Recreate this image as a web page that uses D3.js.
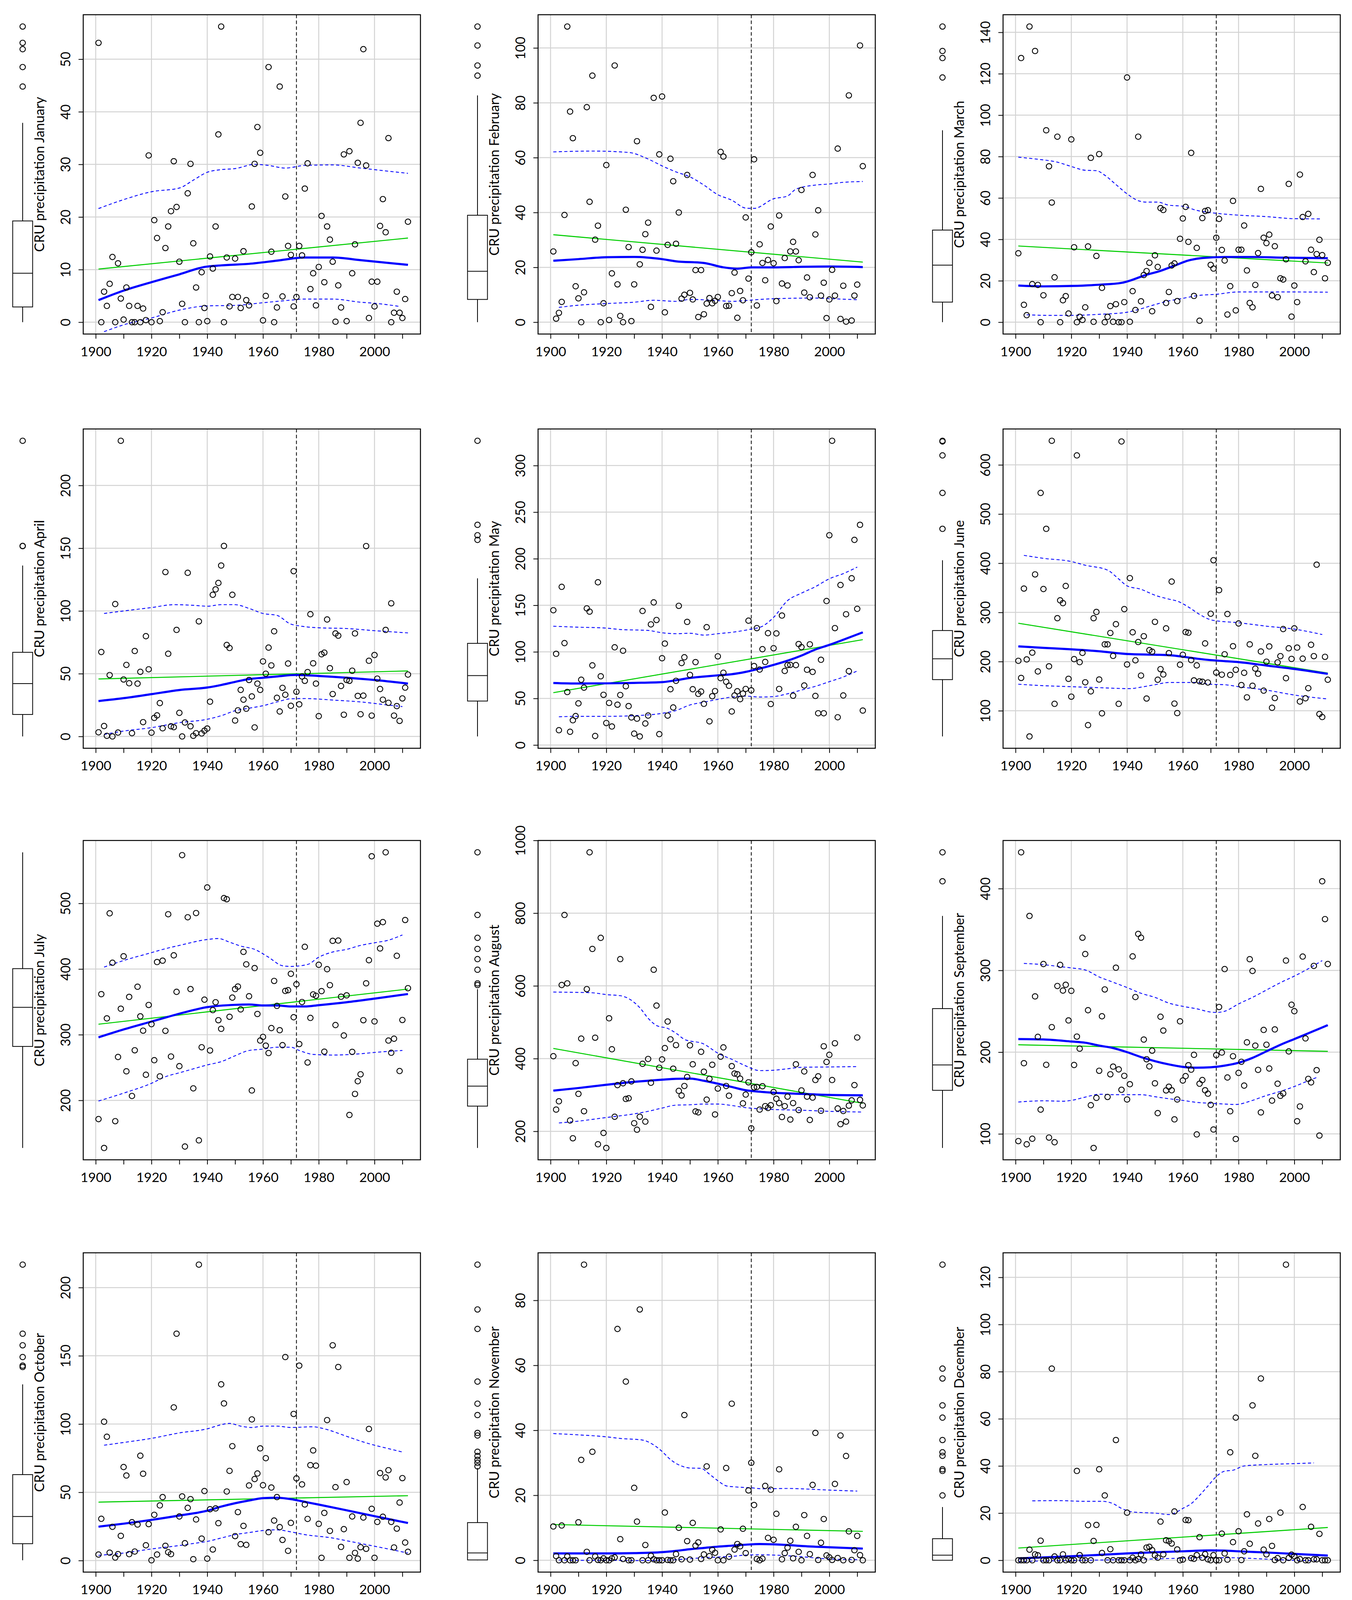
<!DOCTYPE html>
<html>
<head>
<meta charset="utf-8">
<script src="https://cdn.jsdelivr.net/npm/d3@7"></script>
<style>
  html, body { margin: 0; padding: 0; background: #fff; overflow: hidden; }
  svg { display: block; }
  text { font-family: Lato, "Open Sans", sans-serif; fill: #000; }
</style>
</head>
<body>
<svg id="chart"></svg>
<script>
// CRU monthly precipitation, one value per year from firstYear on
const firstYear = 1901
const xRange = [1900, 2012]
const breakYear = 1972
const monthNames = ['January', 'February', 'March', 'April', 'May', 'June',
    'July', 'August', 'September', 'October', 'November', 'December']

const precipJan = [53.1, 0, 5.8, 3.1, 7.3, 12.4, 0, 11.2, 4.5, 0.5,
    6.6, 3.1, 0, 0, 3.1, 0, 2.6, 0.4, 31.7, 0,
    19.4, 16.0, 0.2, 1.9, 14.1, 18.2, 21.1, 30.6, 21.9, 11.5,
    3.5, 0, 24.5, 30.1, 15.0, 6.6, 0, 9.5, 2.7, 0.2,
    12.5, 10.2, 18.2, 35.7, 56.2, 0, 12.3, 3.0, 4.8, 12.1,
    4.8, 2.7, 13.5, 4.2, 3.2, 22.0, 30.1, 37.1, 32.2, 0.35,
    5.0, 48.5, 13.4, 0, 2.8, 44.8, 4.9, 23.9, 14.5, 12.8,
    3.0, 4.8, 14.5, 12.7, 25.4, 30.2, 6.3, 9.3, 3.2, 10.5,
    20.2, 7.6, 18.2, 15.7, 11.5, 0.1, 7.0, 2.8, 31.9, 0.2,
    32.5, 9.3, 14.8, 30.3, 37.9, 51.9, 29.8, 0.8, 7.7, 3.0,
    7.7, 18.3, 23.4, 17.1, 35.0, 0, 1.8, 5.8, 1.8, 0.8,
    4.4, 19.1]
const precipFeb = [25.8, 1.3, 3.4, 7.4, 39.1, 107.8, 76.8, 67.1, 13.1, 8.7,
    0, 10.9, 78.4, 43.9, 89.9, 30.1, 35.2, 0, 6.9, 57.3,
    0.8, 17.8, 93.6, 13.8, 2.3, 0, 41.0, 27.4, 0.4, 13.8,
    66.0, 21.1, 26.4, 32.1, 36.3, 5.6, 81.8, 26.1, 61.2, 82.3,
    3.6, 28.2, 59.6, 51.4, 28.6, 40.0, 8.6, 10.0, 53.7, 10.7,
    8.3, 19.0, 1.9, 19.0, 2.9, 6.8, 8.8, 6.9, 7.8, 9.2,
    62.1, 60.4, 5.9, 6.0, 10.6, 18.1, 1.6, 11.4, 8.0, 38.2,
    15.9, 25.5, 59.4, 6.1, 28.4, 21.6, 15.3, 22.7, 34.9, 21.5,
    7.7, 38.9, 14.1, 23.4, 13.4, 25.8, 29.3, 25.8, 22.6, 48.2,
    10.8, 16.3, 9.1, 53.7, 32.0, 40.8, 9.7, 14.4, 1.5, 8.3,
    19.1, 9.7, 63.3, 1.2, 13.3, 0.2, 82.7, 0.6, 9.7, 13.7,
    100.9, 56.9]
const precipMar = [33.3, 127.6, 8.4, 3.4, 142.8, 18.4, 131.0, 18.0, 0, 13.0,
    92.7, 75.3, 57.8, 21.7, 89.6, 0, 10.6, 12.6, 4.2, 88.3,
    36.2, 0, 2.6, 1.1, 7.2, 36.6, 79.4, 0.2, 32.0, 81.2,
    16.6, 0, 2.6, 7.8, 0.2, 8.7, 0, 0, 9.7, 118.2,
    0.2, 15.0, 5.9, 89.6, 10.1, 22.8, 24.7, 28.7, 5.3, 32.3,
    26.7, 55.1, 54.2, 9.3, 14.6, 27.4, 28.4, 10.2, 40.3, 50.1,
    55.7, 38.8, 81.8, 12.7, 35.9, 0.7, 50.3, 53.7, 54.1, 27.7,
    25.9, 40.8, 49.9, 34.9, 29.8, 3.7, 17.4, 58.6, 5.7, 35.0,
    35.0, 46.7, 25.0, 9.3, 7.2, 18.0, 33.4, 64.4, 40.8, 38.2,
    42.3, 12.9, 36.7, 12.1, 21.2, 20.6, 30.4, 66.8, 2.7, 17.7,
    9.7, 71.3, 50.8, 29.4, 52.3, 35.0, 24.2, 32.9, 39.8, 32.4,
    21.2, 28.7]
const precipApr = [3.3, 67.3, 8.3, 0.5, 48.9, 0, 105.5, 3.1, 235.6, 45.4,
    57.0, 42.4, 2.6, 68.1, 42.1, 51.5, 11.4, 79.9, 53.5, 3.0,
    14.8, 16.8, 26.6, 6.5, 131.0, 65.9, 8.1, 7.4, 84.9, 18.8,
    0, 11.1, 130.4, 8.1, 0.5, 2.6, 91.7, 2.4, 4.6, 6.3,
    27.7, 112.9, 117.2, 122.3, 136.2, 151.8, 72.9, 70.5, 112.9, 12.7,
    20.8, 37.1, 29.3, 22.1, 45.0, 31.9, 7.2, 42.1, 37.1, 59.8,
    50.0, 70.8, 56.6, 83.8, 30.8, 19.9, 38.7, 33.2, 58.1, 24.4,
    131.7, 35.6, 25.6, 47.8, 44.3, 51.3, 97.4, 58.3, 42.1, 16.2,
    65.5, 66.8, 93.2, 54.4, 33.8, 82.1, 80.3, 40.2, 17.3, 45.0,
    44.3, 52.4, 82.1, 32.3, 17.7, 32.5, 151.7, 60.3, 16.6, 64.9,
    46.1, 37.8, 29.3, 84.9, 26.8, 106.1, 16.6, 24.2, 12.4, 30.3,
    38.9, 49.3]
const precipMay = [144.7, 97.9, 15.9, 169.8, 109.4, 56.9, 14.2, 26.6, 31.1, 44.7,
    70.1, 61.6, 146.7, 143.2, 85.5, 9.7, 174.7, 73.8, 53.9, 23.6,
    45.2, 19.9, 104.9, 43.3, 53.7, 101.2, 63.1, 41.8, 29.6, 12.2,
    28.3, 9.2, 143.9, 23.1, 31.6, 129.5, 153.1, 134.2, 11.7, 93.2,
    108.9, 31.6, 59.9, 40.3, 68.9, 149.4, 88.0, 94.2, 132.2, 75.3,
    59.9, 89.0, 54.9, 57.4, 44.2, 126.5, 25.4, 52.4, 57.9, 95.2,
    71.8, 77.6, 67.9, 63.6, 36.0, 53.2, 57.7, 49.2, 55.2, 60.2,
    133.5, 58.7, 84.8, 125.5, 81.0, 102.9, 89.2, 120.1, 44.0, 103.9,
    119.8, 60.2, 139.0, 79.5, 85.8, 86.0, 52.9, 85.8, 108.4, 105.1,
    63.9, 80.8, 108.1, 78.5, 52.7, 34.1, 91.5, 34.1, 154.6, 225.2,
    326.6, 125.5, 29.8, 171.8, 53.2, 140.4, 79.3, 179.0, 220.2, 146.2,
    236.4, 37.0]
const precipJun = [201.6, 166.8, 348.5, 204.5, 47.8, 218.2, 377.3, 180.0, 543.0, 347.6,
    470.0, 190.4, 649.0, 114.1, 288.3, 324.6, 318.9, 353.8, 165.0, 128.7,
    205.0, 619.3, 198.9, 217.7, 157.9, 70.8, 139.5, 288.3, 301.0, 163.6,
    94.8, 235.1, 235.1, 258.2, 211.6, 276.1, 114.1, 647.6, 306.7, 194.2,
    369.8, 259.6, 202.6, 239.8, 171.6, 251.6, 124.9, 223.3, 220.1, 280.8,
    163.1, 184.7, 173.9, 267.6, 217.2, 362.7, 114.6, 95.3, 193.7, 213.9,
    260.1, 258.7, 203.1, 161.8, 192.3, 159.9, 159.0, 237.0, 157.5, 297.3,
    406.1, 177.7, 345.3, 173.4, 214.9, 296.8, 172.9, 231.3, 183.3, 277.5,
    152.3, 177.2, 127.3, 235.1, 150.9, 185.7, 175.3, 220.6, 140.9, 199.8,
    230.9, 106.1, 125.9, 198.4, 211.1, 266.2, 166.3, 227.1, 205.5, 267.6,
    228.5, 118.8, 206.0, 125.4, 146.0, 234.2, 211.1, 397.1, 93.4, 87.3,
    209.7, 163.1]
const precipJul = [171.5, 361.8, 127.5, 324.9, 484.9, 409.6, 168.3, 266.1, 339.6, 419.5,
    244.3, 357.6, 206.7, 276.3, 373.1, 328.0, 306.2, 239.0, 345.3, 316.1,
    261.2, 410.7, 236.6, 412.8, 305.9, 483.5, 266.8, 420.9, 365.3, 252.1,
    573.5, 129.7, 478.9, 369.5, 218.3, 485.3, 139.1, 280.9, 353.4, 524.3,
    276.0, 337.5, 349.5, 322.1, 309.0, 508.1, 506.4, 327.3, 356.5, 369.5,
    373.4, 338.6, 426.2, 407.2, 358.6, 215.1, 401.5, 331.6, 291.1, 296.7,
    283.4, 272.1, 310.1, 381.9, 343.9, 306.9, 284.1, 366.7, 367.8, 392.8,
    326.6, 376.9, 285.8, 349.8, 433.9, 257.7, 325.6, 361.4, 359.3, 406.5,
    366.4, 274.2, 399.8, 375.5, 443.0, 314.7, 443.4, 357.9, 298.8, 360.0,
    177.8, 273.9, 209.8, 229.2, 239.7, 322.1, 378.3, 413.5, 571.8, 320.3,
    469.1, 431.4, 471.5, 577.8, 291.1, 272.5, 293.9, 420.2, 244.7, 322.4,
    474.7, 370.9]
const precipAug = [406.6, 259.8, 282.6, 602.4, 795.0, 606.9, 229.9, 180.9, 387.5, 303.0,
    454.9, 255.3, 591.0, 967.3, 701.6, 457.5, 164.4, 732.1, 195.5, 154.2,
    510.9, 425.7, 240.1, 327.1, 673.6, 332.2, 289.0, 290.9, 337.3, 222.3,
    204.4, 240.1, 385.6, 226.7, 399.0, 333.5, 644.4, 545.8, 374.8, 397.7,
    428.9, 502.0, 453.0, 372.3, 437.1, 311.3, 298.5, 324.6, 349.4, 436.5,
    384.4, 254.7, 252.1, 418.7, 364.0, 287.1, 344.3, 383.1, 246.4, 317.6,
    405.3, 430.8, 324.6, 297.9, 379.3, 358.9, 357.0, 344.9, 276.9, 301.1,
    334.8, 208.3, 320.8, 322.1, 259.8, 324.0, 269.3, 264.2, 271.8, 308.1,
    289.6, 277.6, 239.4, 269.3, 295.4, 232.4, 277.6, 384.4, 258.5, 312.5,
    364.7, 295.4, 231.2, 292.8, 341.1, 351.3, 256.6, 433.9, 390.7, 410.4,
    341.1, 442.2, 262.9, 219.7, 255.9, 226.7, 270.6, 285.2, 327.1, 458.1,
    286.5, 271.2]
const precipSep = [91.2, 444.4, 186.5, 87.3, 366.6, 94.1, 268.2, 218.7, 129.7, 307.8,
    184.5, 95.5, 230.6, 89.8, 280.9, 306.7, 275.3, 282.4, 238.8, 275.0,
    184.3, 219.0, 204.3, 340.0, 320.0, 251.3, 135.1, 82.8, 144.1, 177.2,
    243.9, 276.7, 145.2, 172.9, 182.3, 303.3, 178.9, 154.0, 171.0, 142.1,
    160.8, 317.1, 267.4, 344.6, 340.0, 215.4, 191.3, 182.6, 201.8, 161.9,
    125.4, 243.3, 226.4, 153.2, 157.7, 153.4, 117.8, 142.1, 237.7, 165.3,
    170.7, 184.0, 178.6, 196.7, 99.4, 161.4, 165.9, 153.4, 149.2, 135.6,
    105.4, 196.4, 255.2, 199.5, 301.6, 169.0, 127.7, 195.0, 93.8, 174.6,
    188.2, 159.1, 212.0, 313.7, 299.3, 208.0, 178.3, 126.3, 227.2, 209.1,
    180.0, 140.7, 227.8, 161.4, 146.6, 149.5, 312.0, 200.9, 258.0, 250.1,
    115.5, 133.6, 316.9, 216.8, 167.3, 163.0, 305.5, 178.0, 98.0, 409.0,
    362.7, 307.8]
const precipOct = [4.4, 30.6, 101.7, 90.7, 5.8, 24.7, 2.2, 4.7, 18.1, 68.5,
    62.3, 4.7, 28.1, 6.6, 26.4, 76.8, 63.6, 11.2, 26.7, 0.2,
    33.5, 4.4, 40.4, 46.5, 10.8, 6.1, 4.7, 112.2, 166.2, 32.3,
    47.0, 12.7, 38.6, 45.0, 1.0, 30.1, 216.8, 16.1, 50.9, 1.4,
    37.6, 8.1, 38.2, 27.4, 129.1, 115.1, 50.6, 65.7, 83.8, 17.9,
    35.5, 12.0, 25.4, 11.5, 55.0, 103.4, 59.7, 63.8, 82.2, 55.2,
    75.0, 20.8, 53.5, 29.3, 46.5, 24.5, 15.1, 149.1, 7.1, 27.6,
    107.4, 60.2, 142.8, 55.8, 41.1, 30.5, 69.9, 80.7, 69.5, 26.9,
    2.0, 34.9, 102.9, 21.7, 157.7, 53.8, 141.8, 10.0, 23.0, 57.5,
    2.0, 32.3, 5.6, 1.4, 9.8, 31.5, 8.6, 96.4, 37.9, 2.0,
    28.3, 64.1, 32.1, 60.9, 66.2, 28.3, 9.6, 23.4, 42.5, 60.4,
    13.2, 6.4]
const precipNov = [10.4, 1.3, 0, 10.7, 0, 1.2, 0, 0, 0, 11.7,
    30.9, 91.0, 2.6, 0, 33.4, 1.2, 0.1, 0, 0.6, 0,
    0, 0.6, 0.9, 71.2, 6.5, 0.4, 55.0, 0, 0, 22.3,
    11.9, 77.2, 0, 4.7, 0, 1.4, 0.3, 0, 0, 0,
    14.7, 0.1, 0, 0, 1.9, 10.0, 0.3, 44.7, 5.9, 0.2,
    11.5, 4.5, 5.5, 0.4, 1.8, 28.9, 1.3, 3.2, 2.3, 0,
    9.5, 0, 28.4, 1.1, 48.2, 3.3, 5.0, 4.3, 9.7, 2.2,
    21.5, 30.0, 17.0, 0.4, 0, 0.5, 22.9, 6.9, 21.7, 6.3,
    14.3, 28.0, 0.3, 2.2, 3.9, 6.0, 0.6, 10.3, 2.6, 0,
    13.9, 7.5, 1.9, 23.2, 39.2, 0.1, 5.4, 12.7, 1.5, 0.9,
    0.1, 23.5, 0.7, 38.4, 0, 32.1, 8.9, 0.1, 3.1, 7.5,
    1.6, 0]
const precipDec = [0, 0, 0, 0, 4.5, 0, 2.5, 2.1, 8.3, 0,
    0, 0, 81.3, 1.6, 0, 0, 2.5, 0, 0.4, 0,
    0, 37.9, 2.2, 0, 0, 14.9, 0, 8.2, 15.0, 38.6,
    3.1, 27.5, 0, 4.7, 0, 51.0, 0, 0, 0, 20.2,
    0, 1.1, 0, 0.5, 2.5, 0, 5.4, 5.7, 4.3, 2.1,
    1.1, 16.4, 2.5, 8.5, 8.1, 7.1, 20.7, 4.6, 0, 0.3,
    17.1, 17.0, 0.9, 0.6, 2.2, 9.8, 1.1, 2.6, 0.4, 0,
    2.2, 0, 0, 11.3, 2.9, 0.3, 45.8, 7.7, 60.5, 12.3,
    0.1, 3.8, 19.5, 7.0, 65.7, 44.3, 15.6, 77.1, 4.5, 2.5,
    17.5, 6.1, 0.1, 0.9, 20.2, 0, 125.4, 1.0, 2.4, 1.7,
    0, 0.5, 22.6, 0, 0, 14.2, 0.4, 0.4, 11.2, 0,
    0, 0]

// linear trend (green) at 1901 and 2012
const linFitStart = [10.1, 31.9, 36.8, 45.8, 56.2, 278, 316, 428, 209, 42.8, 11.0, 5.2]
const linFitEnd = [16.0, 21.9, 28.6, 52.2, 113.1, 176.7, 369.5, 277, 201, 47.5, 8.9, 13.9]

// smoother (solid blue) and upper / lower bands (dashed blue), read at knots
const smoothJan = [[1901, 4.2], [1910, 6.0], [1920, 7.6], [1930, 9.1], [1939, 10.5], [1945, 10.8], [1955, 11.1], [1965, 11.7], [1975, 12.3], [1985, 12.3], [1995, 11.8], [2012, 10.9]]
const upperJan = [[1901, 21.6], [1910, 23.3], [1920, 24.8], [1930, 25.5], [1935, 27.0], [1940, 28.5], [1945, 29.0], [1950, 29.2], [1957, 30.0], [1962, 29.8], [1968, 29.3], [1975, 29.8], [1985, 29.9], [1995, 29.3], [2005, 28.7], [2012, 28.3]]
const lowerJan = [[1903, -1.8], [1910, -0.5], [1920, 0.8], [1930, 2.3], [1940, 3.1], [1950, 3.2], [1960, 3.7], [1970, 4.2], [1975, 4.4], [1985, 4.4], [1995, 3.8], [2000, 3.6], [2009, 3.0]]

const smoothFeb = [[1901, 22.4], [1910, 23.0], [1920, 23.7], [1930, 23.8], [1940, 23.0], [1945, 22.2], [1955, 21.6], [1962, 20.0], [1967, 19.5], [1972, 20.0], [1980, 20.0], [1990, 20.2], [2000, 20.3], [2012, 20.1]]
const upperFeb = [[1901, 62.1], [1915, 62.4], [1928, 61.9], [1935, 59.5], [1940, 57.0], [1945, 54.8], [1950, 53.0], [1955, 50.0], [1960, 46.5], [1965, 44.5], [1970, 41.6], [1973, 41.5], [1980, 45.0], [1985, 46.0], [1988, 48.5], [1995, 50.0], [2000, 50.4], [2005, 51.0], [2012, 51.3]]
const lowerFeb = [[1903, 5.4], [1910, 6.2], [1920, 6.8], [1930, 7.3], [1937, 8.0], [1945, 7.6], [1950, 8.3], [1960, 7.9], [1965, 7.6], [1970, 7.9], [1975, 8.3], [1985, 8.7], [1995, 8.8], [2000, 8.6], [2010, 8.2]]

const smoothMar = [[1901, 17.7], [1910, 17.3], [1920, 17.5], [1930, 18.1], [1938, 19.0], [1942, 20.5], [1946, 22.5], [1952, 24.8], [1957, 27.3], [1962, 29.8], [1967, 31.0], [1975, 31.5], [1985, 31.5], [1995, 31.2], [2012, 30.9]]
const upperMar = [[1901, 79.7], [1908, 78.7], [1915, 77.3], [1920, 75.2], [1925, 73.4], [1929, 73.2], [1932, 71.0], [1936, 66.5], [1940, 62.0], [1944, 58.7], [1947, 58.0], [1951, 58.0], [1955, 56.5], [1960, 56.0], [1965, 54.0], [1972, 52.6], [1980, 51.7], [1990, 51.0], [2000, 50.0], [2010, 49.9]]
const lowerMar = [[1904, 3.6], [1912, 3.3], [1920, 3.3], [1930, 3.8], [1940, 4.8], [1945, 6.5], [1950, 8.5], [1955, 10.3], [1960, 11.5], [1965, 12.8], [1972, 13.5], [1980, 14.6], [1990, 14.6], [2000, 14.6], [2012, 14.5]]

const smoothApr = [[1901, 28.2], [1910, 30.5], [1920, 33.7], [1930, 37.0], [1940, 39.0], [1945, 41.0], [1950, 43.5], [1955, 45.7], [1960, 46.8], [1965, 47.8], [1972, 49.0], [1980, 48.2], [1990, 46.8], [2000, 45.0], [2012, 42.1]]
const upperApr = [[1903, 98.0], [1910, 100.0], [1920, 102.7], [1928, 105.0], [1935, 104.5], [1940, 103.8], [1945, 105.0], [1950, 105.0], [1955, 102.0], [1960, 98.0], [1965, 96.5], [1970, 89.5], [1972, 88.5], [1980, 86.6], [1990, 86.0], [2000, 84.3], [2012, 82.5]]
const lowerApr = [[1903, 1.6], [1910, 4.3], [1920, 7.0], [1930, 11.0], [1940, 13.7], [1945, 16.5], [1950, 20.5], [1955, 22.5], [1960, 24.5], [1965, 27.5], [1970, 30.0], [1975, 30.2], [1985, 29.0], [1995, 27.5], [2005, 25.0], [2010, 23.8]]

const smoothMay = [[1901, 66.6], [1910, 66.0], [1920, 66.2], [1930, 66.7], [1940, 67.5], [1945, 69.5], [1950, 72.0], [1955, 73.5], [1960, 74.8], [1965, 76.0], [1970, 78.5], [1975, 82.0], [1980, 86.0], [1985, 90.5], [1990, 96.0], [1995, 102.5], [2000, 107.5], [2005, 113.0], [2012, 121.0]]
const upperMay = [[1901, 127.5], [1910, 126.5], [1920, 125.5], [1925, 124.0], [1935, 123.0], [1940, 120.5], [1945, 119.5], [1950, 120.0], [1955, 118.0], [1960, 119.5], [1965, 121.0], [1972, 124.5], [1976, 127.5], [1980, 137.0], [1985, 155.0], [1990, 163.0], [1995, 170.0], [2000, 178.5], [2005, 184.0], [2010, 191.0]]
const lowerMay = [[1903, 30.3], [1910, 30.8], [1920, 30.8], [1930, 31.5], [1940, 34.0], [1945, 37.0], [1950, 43.0], [1955, 46.0], [1960, 49.0], [1965, 51.5], [1970, 52.5], [1975, 51.5], [1980, 52.0], [1985, 55.0], [1990, 59.0], [1995, 63.0], [2000, 68.0], [2005, 73.0], [2010, 79.5]]

const smoothJun = [[1901, 231], [1910, 228], [1920, 225], [1930, 221], [1940, 215.5], [1950, 214], [1955, 213], [1960, 210], [1965, 206], [1970, 203], [1975, 201], [1980, 199], [1990, 192], [2000, 185], [2012, 175]]
const upperJun = [[1903, 416], [1910, 410], [1920, 403.5], [1925, 396], [1933, 386], [1937, 368], [1940, 354], [1945, 347], [1950, 335], [1955, 327], [1958, 323], [1962, 311], [1966, 296], [1970, 285], [1972, 283], [1980, 279], [1990, 272], [2000, 266], [2010, 255]]
const lowerJun = [[1901, 154], [1910, 151], [1920, 149], [1930, 147], [1941, 145], [1945, 148], [1950, 153], [1955, 157.5], [1965, 157.5], [1970, 154], [1975, 153], [1980, 149], [1990, 142], [2000, 132], [2012, 124]]

const smoothJul = [[1901, 296], [1910, 308], [1920, 320], [1930, 332], [1940, 342], [1950, 345.5], [1955, 346], [1960, 344.5], [1965, 344.5], [1970, 343], [1975, 343], [1980, 345], [1990, 349.5], [2000, 355], [2012, 362]]
const upperJul = [[1903, 403], [1910, 413], [1920, 425], [1925, 431], [1930, 436], [1940, 445], [1944, 446.5], [1948, 441], [1952, 435], [1957, 430], [1962, 418], [1967, 405], [1970, 404], [1976, 407], [1980, 418], [1985, 426], [1990, 430], [1995, 436], [2000, 440], [2005, 444], [2010, 452]]
const lowerJul = [[1901, 199], [1910, 211], [1920, 226], [1925, 236], [1930, 242], [1935, 248], [1940, 254], [1945, 259], [1950, 268], [1955, 276], [1960, 278], [1965, 281], [1970, 281], [1973, 276], [1978, 270], [1985, 269], [1995, 271], [2000, 273], [2010, 276]]

const smoothAug = [[1901, 312], [1910, 319], [1920, 328], [1930, 336], [1940, 342], [1945, 344.5], [1950, 345], [1955, 339], [1960, 331], [1965, 322], [1970, 313], [1975, 309], [1980, 306], [1990, 303], [2000, 300], [2012, 299]]
const upperAug = [[1901, 583], [1910, 582], [1915, 581], [1920, 576], [1925, 573], [1928, 565], [1932, 540], [1935, 511], [1938, 491], [1942, 483], [1945, 470], [1948, 453], [1955, 440], [1960, 415], [1965, 398], [1970, 380], [1975, 367], [1980, 368], [1985, 372], [1990, 376], [2000, 377], [2010, 378]]
const lowerAug = [[1903, 223], [1910, 228], [1920, 238], [1930, 248], [1935, 255], [1940, 264], [1945, 272], [1950, 273], [1955, 275], [1960, 275], [1965, 271], [1970, 265], [1975, 262], [1980, 260], [1990, 258], [2000, 255], [2012, 253]]

const smoothSep = [[1901, 216], [1910, 215.5], [1920, 213], [1925, 211.5], [1930, 208], [1935, 205], [1940, 200], [1945, 194], [1950, 189], [1955, 185], [1960, 182], [1965, 181], [1970, 181.5], [1975, 183.5], [1980, 187], [1985, 193], [1990, 201], [1995, 209], [2000, 216], [2005, 223], [2012, 233]]
const upperSep = [[1903, 308.5], [1910, 307], [1915, 305], [1920, 303], [1925, 300.5], [1930, 292], [1935, 285.5], [1940, 279], [1945, 272], [1950, 267], [1955, 260], [1960, 256], [1965, 253], [1970, 249], [1972, 248.5], [1975, 250], [1980, 259], [1985, 267], [1990, 276], [1995, 285], [2000, 293], [2005, 302], [2010, 312]]
const lowerSep = [[1901, 139], [1910, 140.5], [1917, 140], [1920, 141], [1925, 145], [1930, 148.5], [1935, 148], [1940, 148], [1945, 148], [1950, 145.5], [1955, 143], [1960, 141], [1965, 138.5], [1970, 137.5], [1975, 136.5], [1979, 136], [1985, 141], [1990, 147], [1995, 152], [2000, 158], [2005, 165], [2008, 169]]

const smoothOct = [[1901, 24.8], [1910, 27.0], [1920, 29.8], [1930, 33.0], [1940, 36.5], [1945, 39.5], [1950, 42.0], [1955, 44.0], [1960, 45.7], [1965, 46.0], [1970, 45.0], [1975, 43.0], [1980, 41.0], [1990, 36.8], [2000, 32.5], [2012, 27.5]]
const upperOct = [[1903, 84.5], [1910, 86.5], [1920, 89.5], [1930, 93.5], [1940, 96.5], [1945, 99.5], [1948, 100.5], [1952, 98.5], [1956, 97.5], [1960, 98.5], [1965, 98.5], [1970, 97.5], [1978, 98.0], [1982, 96.5], [1990, 91.0], [1995, 87.5], [2000, 84.5], [2005, 82.0], [2010, 79.5]]
const lowerOct = [[1901, 3.8], [1910, 5.5], [1920, 8.5], [1930, 11.0], [1935, 12.5], [1940, 14.0], [1945, 16.5], [1950, 19.0], [1955, 20.5], [1960, 22.0], [1965, 22.5], [1970, 21.0], [1975, 19.0], [1985, 16.5], [1990, 14.5], [2000, 10.5], [2012, 5.5]]

const smoothNov = [[1901, 2.1], [1910, 2.1], [1920, 2.1], [1930, 2.2], [1940, 2.5], [1945, 2.9], [1950, 3.4], [1955, 3.8], [1960, 4.2], [1965, 4.5], [1970, 4.8], [1975, 5.0], [1980, 4.9], [1985, 4.7], [1990, 4.4], [2000, 4.0], [2012, 3.6]]
const upperNov = [[1901, 39.0], [1910, 38.6], [1920, 38.0], [1925, 37.5], [1933, 37.0], [1937, 35.5], [1940, 33.5], [1943, 31.0], [1947, 29.0], [1950, 28.4], [1954, 28.3], [1957, 26.5], [1960, 24.5], [1963, 22.9], [1966, 22.6], [1972, 22.3], [1976, 22.0], [1985, 22.1], [1990, 22.0], [1995, 21.8], [2000, 21.6], [2010, 21.3]]
const lowerNov = [[1903, 0.1], [1910, 0.0], [1920, 0.0], [1930, -0.1], [1940, 0.0], [1945, 0.2], [1950, 0.5], [1955, 0.8], [1960, 1.0], [1965, 1.2], [1970, 1.6], [1975, 1.7], [1980, 1.6], [1985, 1.4], [1990, 1.1], [1995, 0.7], [2000, 0.4], [2010, 0.2]]

const smoothDec = [[1901, 0.8], [1910, 1.2], [1920, 1.7], [1930, 2.3], [1940, 2.9], [1950, 3.4], [1960, 3.8], [1970, 4.2], [1975, 4.1], [1980, 3.8], [1990, 3.3], [2000, 2.7], [2012, 2.0]]
const upperDec = [[1906, 25.2], [1915, 25.3], [1925, 25.0], [1931, 25.0], [1935, 24.0], [1938, 22.0], [1942, 20.5], [1946, 20.2], [1950, 20.0], [1955, 19.4], [1957, 20.0], [1960, 22.0], [1963, 24.0], [1966, 27.5], [1969, 31.5], [1972, 35.5], [1975, 37.8], [1978, 38.2], [1982, 40.0], [1990, 40.6], [2000, 41.0], [2007, 41.3]]
const lowerDec = [[1901, -0.5], [1910, -0.3], [1920, -0.1], [1930, 0.1], [1940, 0.3], [1950, 0.6], [1960, 0.9], [1970, 1.1], [1975, 1.1], [1980, 1.0], [1990, 0.5], [2000, 0.0], [2008, -0.2]]

// tick values
const xTickYears = [1900, 1910, 1920, 1930, 1940, 1950, 1960, 1970, 1980, 1990, 2000, 2010]
const xLabelYears = [1900, 1920, 1940, 1960, 1980, 2000]
const yTicks = [
    [0, 10, 20, 30, 40, 50],
    [0, 20, 40, 60, 80, 100],
    [0, 20, 40, 60, 80, 100, 120, 140],
    [0, 50, 100, 150, 200],
    [0, 50, 100, 150, 200, 250, 300],
    [100, 200, 300, 400, 500, 600],
    [200, 300, 400, 500],
    [200, 400, 600, 800, 1000],
    [100, 200, 300, 400],
    [0, 50, 100, 150, 200],
    [0, 20, 40, 60, 80],
    [0, 20, 40, 60, 80, 100, 120]]

const precip = [precipJan, precipFeb, precipMar, precipApr, precipMay, precipJun,
    precipJul, precipAug, precipSep, precipOct, precipNov, precipDec]
const smooths = [smoothJan, smoothFeb, smoothMar, smoothApr, smoothMay, smoothJun,
    smoothJul, smoothAug, smoothSep, smoothOct, smoothNov, smoothDec]
const uppers = [upperJan, upperFeb, upperMar, upperApr, upperMay, upperJun,
    upperJul, upperAug, upperSep, upperOct, upperNov, upperDec]
const lowers = [lowerJan, lowerFeb, lowerMar, lowerApr, lowerMay, lowerJun,
    lowerJul, lowerAug, lowerSep, lowerOct, lowerNov, lowerDec]

// ---- layout ----
const width = 3460, height = 4129
const colLeft = [213, 1377, 2567]
const rowTop = [38, 1107, 2169, 3233]
const plotW = 863, plotH = 824
const fontSize = 34

// the window may be shorter than the figure: squeeze the whole figure into it
const viewH = Math.min(height, window.innerHeight || height)
const svg = d3.select('#chart')
    .attr('width', width)
    .attr('height', viewH)
    .attr('viewBox', `0 0 ${width} ${height}`)
    .attr('preserveAspectRatio', 'none')
    .style('background', '#fff')

// R-like 4% axis expansion
function expand(ext) {
    const pad = (ext[1] - ext[0]) * 0.04
    return [ext[0] - pad, ext[1] + pad]
}

// Tukey five-number summary, as boxplot() does it
function boxStats(vals) {
    const s = vals.slice().sort(d3.ascending), n = s.length
    const n4 = Math.floor((n + 3) / 2) / 2
    const q = [1, n4, (n + 1) / 2, n + 1 - n4, n]
        .map(d => 0.5 * (s[Math.floor(d) - 1] + s[Math.ceil(d) - 1]))
    const iqr = q[3] - q[1]
    const lo = q[1] - 1.5 * iqr, hi = q[3] + 1.5 * iqr
    const inside = s.filter(v => v >= lo && v <= hi)
    return {
        q1: q[1], med: q[2], q3: q[3],
        wLo: inside[0], wHi: inside[inside.length - 1],
        out: s.filter(v => v < lo || v > hi),
    }
}

const xScale = d3.scaleLinear().domain(expand(xRange)).range([0, plotW])

function drawPanel(i) {
    const left = colLeft[i % 3], top = rowTop[Math.floor(i / 3)]
    const values = precip[i]
    const points = values.map((v, k) => ({year: firstYear + k, v}))
    const y = d3.scaleLinear().domain(expand(d3.extent(values))).range([plotH, 0])

    const g = svg.append('g').attr('transform', `translate(${left}, ${top})`)

    g.append('clipPath').attr('id', 'clip' + i)
      .append('rect').attr('width', plotW).attr('height', plotH)

    // grid
    const grid = g.append('g').attr('stroke', '#d3d3d3').attr('stroke-width', 2.5)
    grid.selectAll('.vgrid').data(xLabelYears).enter().append('line')
        .attr('x1', d => xScale(d)).attr('x2', d => xScale(d))
        .attr('y1', 0).attr('y2', plotH)
    grid.selectAll('.hgrid').data(yTicks[i]).enter().append('line')
        .attr('y1', d => y(d)).attr('y2', d => y(d))
        .attr('x1', 0).attr('x2', plotW)

    const inner = g.append('g').attr('clip-path', `url(#clip${i})`)

    // break year
    inner.append('line')
        .attr('x1', xScale(breakYear)).attr('x2', xScale(breakYear))
        .attr('y1', 0).attr('y2', plotH)
        .attr('stroke', '#000').attr('stroke-width', 2)
        .attr('stroke-dasharray', '9,6')

    const line = d3.line()
        .x(d => xScale(d[0])).y(d => y(d[1]))
        .curve(d3.curveMonotoneX)

    // linear trend
    inner.append('path')
        .datum([[firstYear, linFitStart[i]], [firstYear + values.length - 1, linFitEnd[i]]])
        .attr('d', d3.line().x(d => xScale(d[0])).y(d => y(d[1])))
        .attr('fill', 'none').attr('stroke', '#00cd00').attr('stroke-width', 2.6)

    // bands
    ;[uppers[i], lowers[i]].forEach(band => {
        inner.append('path').datum(band).attr('d', line)
            .attr('fill', 'none').attr('stroke', '#0000ff').attr('stroke-width', 2.2)
            .attr('stroke-dasharray', '8,6')
    })

    // smoother
    inner.append('path').datum(smooths[i]).attr('d', line)
        .attr('fill', 'none').attr('stroke', '#0000ff').attr('stroke-width', 5.5)

    // observations
    inner.selectAll('.obs').data(points).enter().append('circle')
        .attr('cx', d => xScale(d.year)).attr('cy', d => y(d.v))
        .attr('r', 7).attr('fill', 'none')
        .attr('stroke', '#000').attr('stroke-width', 2.2)

    // frame
    g.append('rect').attr('width', plotW).attr('height', plotH)
        .attr('fill', 'none').attr('stroke', '#000').attr('stroke-width', 2.5)

    // x axis
    const xAxis = d3.axisBottom(xScale)
        .tickValues(xTickYears)
        .tickSize(12).tickSizeOuter(0).tickPadding(21)
        .tickFormat(d => xLabelYears.includes(d) ? String(d) : '')
    const xg = g.append('g').attr('transform', `translate(0, ${plotH})`).call(xAxis)
    xg.select('.domain').remove()
    xg.selectAll('line').attr('stroke-width', 2)
    xg.selectAll('text').attr('font-size', fontSize).attr('font-family', null)

    // y axis, labels parallel to the axis
    const yAxis = d3.axisLeft(y).tickValues(yTicks[i]).tickSize(12).tickSizeOuter(0)
        .tickFormat(d => String(d))
    const yg = g.append('g').call(yAxis)
    yg.select('.domain').remove()
    yg.selectAll('line').attr('stroke-width', 2)
    yg.selectAll('text')
        .attr('font-size', fontSize).attr('font-family', null)
        .attr('transform', 'rotate(-90)')
        .attr('x', 0).attr('y', -33).attr('dy', 0)
        .attr('text-anchor', 'middle')

    g.append('text')
        .attr('transform', `translate(-100, ${plotH / 2}) rotate(-90)`)
        .attr('text-anchor', 'middle')
        .attr('font-size', fontSize + 1)
        .text('CRU precipitation ' + monthNames[i])

    // boxplot of the whole series
    const st = boxStats(values)
    const bx = -155, bw = 51
    const bp = g.append('g').attr('stroke', '#000').attr('fill', 'none').attr('stroke-width', 2)
    bp.append('line').attr('x1', bx).attr('x2', bx).attr('y1', y(st.q3)).attr('y2', y(st.wHi))
    bp.append('line').attr('x1', bx).attr('x2', bx).attr('y1', y(st.q1)).attr('y2', y(st.wLo))
    bp.append('rect').attr('x', bx - bw / 2).attr('width', bw)
        .attr('y', y(st.q3)).attr('height', y(st.q1) - y(st.q3))
    bp.append('line').attr('x1', bx - bw / 2).attr('x2', bx + bw / 2)
        .attr('y1', y(st.med)).attr('y2', y(st.med))
    bp.selectAll('.out').data(st.out).enter().append('circle')
        .attr('cx', bx).attr('cy', d => y(d)).attr('r', 7).attr('stroke-width', 2.2)
}

d3.range(12).forEach(drawPanel)
</script>
</body>
</html>
